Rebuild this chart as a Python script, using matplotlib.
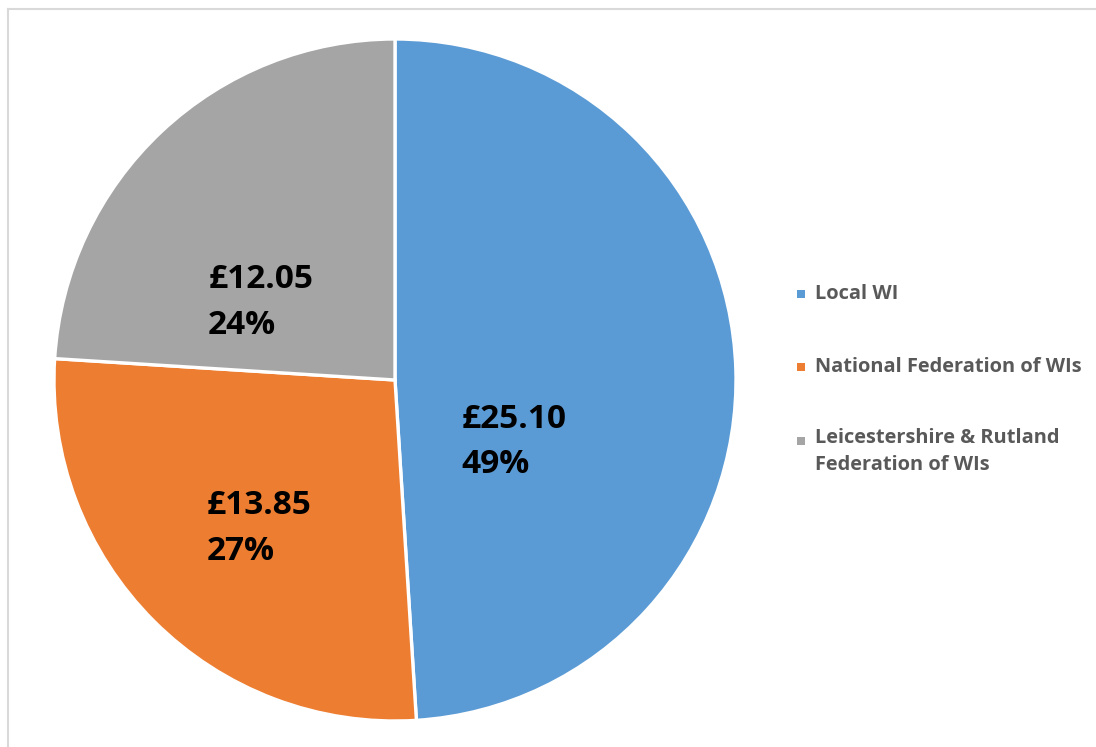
import matplotlib
matplotlib.use("Agg")
import matplotlib.pyplot as plt
from matplotlib.lines import Line2D
from matplotlib.patches import Rectangle

categories = ["Local WI", "National Federation of WIs", "Leicestershire & Rutland\nFederation of WIs"]
amounts = [25.10, 13.85, 12.05]
shares = [49, 27, 24]
value_labels = ["£25.10", "£13.85", "£12.05"]
pct_labels = ["49%", "27%", "24%"]
colors = ["#5B9BD5", "#ED7D31", "#A5A5A5"]

W, H = 1096, 747
fig = plt.figure(figsize=(W / 100, H / 100), dpi=100)
plt.rcParams['font.family'] = ['Open Sans', 'DejaVu Sans']

cx, cy, r = 395, 380, 341
ax = fig.add_axes([(cx - r) / W, (H - cy - r) / H, 2 * r / W, 2 * r / H])
wedges, _ = ax.pie(shares, colors=colors, startangle=90, counterclock=False,
                   wedgeprops=dict(edgecolor="white", linewidth=2.4))
ax.set_xlim(-1, 1)
ax.set_ylim(-1, 1)
ax.set_aspect("equal")
ax.axis("off")

label_pos = [(0.196, -0.182), (-0.551, -0.436), (-0.548, 0.228)]
for (x, y), v, p in zip(label_pos, value_labels, pct_labels):
    ax.text(x, y, v + "\n" + p, ha="left", va="center", fontsize=24,
            fontweight="bold", color="black", linespacing=1.5)

# legend
leg_rows = [294, 367, 441]
for lab, col, y in zip(categories, colors, leg_rows):
    fig.patches.append(Rectangle((797 / W, (H - y - 4) / H), 8 / W, 8 / H,
                                 transform=fig.transFigure, facecolor=col, edgecolor="none"))
    if "\n" in lab:
        fig.text(815 / W, (H - y + 13) / H, lab, ha="left", va="top",
                 fontsize=14.4, fontweight="bold", color="#595959", linespacing=1.45)
    else:
        fig.text(815 / W, (H - y) / H, lab, ha="left", va="center",
                 fontsize=14.4, fontweight="bold", color="#595959")

# frame
fig.lines.append(Line2D([8 / W, 1.0], [(H - 9) / H, (H - 9) / H], transform=fig.transFigure,
                        color="#D9D9D9", linewidth=1.5))
fig.lines.append(Line2D([8 / W, 8 / W], [(H - 9) / H, 0], transform=fig.transFigure,
                        color="#D9D9D9", linewidth=1.5))

fig.savefig("out.png", dpi=100)
